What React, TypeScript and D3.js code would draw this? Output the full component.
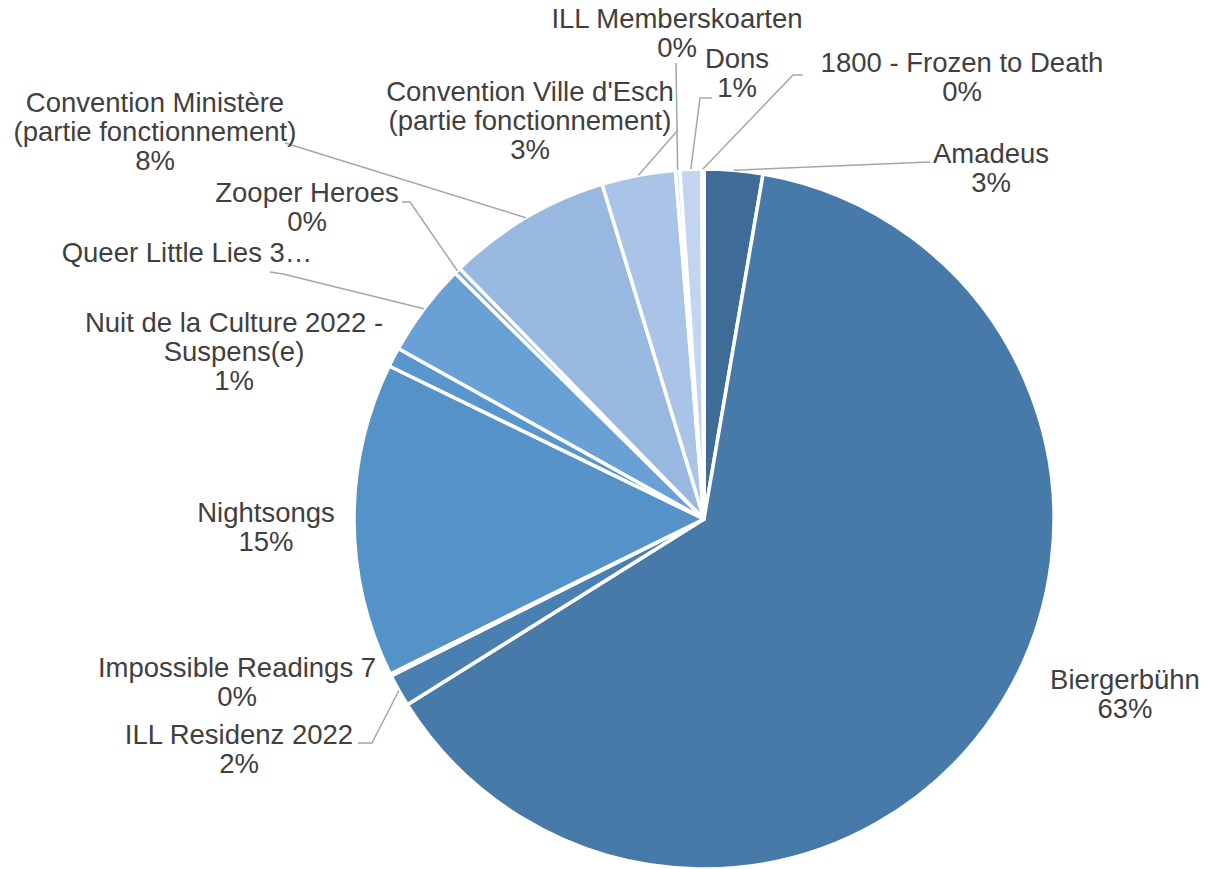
import React from 'react';
import * as d3 from 'd3';

// Categories, clockwise from 12 o'clock
const categories = [
  'Amadeus',
  'Biergerbühn',
  'ILL Residenz 2022',
  'Impossible Readings 7',
  'Nightsongs',
  'Nuit de la Culture 2022 - Suspens(e)',
  'Queer Little Lies 3…',
  'Zooper Heroes',
  'Convention Ministère (partie fonctionnement)',
  "Convention Ville d'Esch (partie fonctionnement)",
  'ILL Memberskoarten',
  'Dons',
  '1800 - Frozen to Death',
];

// share of total, in tenths of a percent
const values = [27, 634, 15, 1, 145, 9, 43, 3, 76, 34, 2, 10, 1];

const colors = [
  '#3f6c96', '#4779a9', '#4a7fb2', '#4f86ba', '#5592c8', '#5996cd', '#69a0d6',
  '#7dabdc', '#98b8e0', '#a9c4e6', '#b8cdea', '#c3d5ee', '#cfddf1',
];

// label layout: text lines (name wrapped), centre x, first baseline, leader line path start
interface LabelLayout {
  lines: string[];
  showPct: boolean;
  x: number;
  y: number;
  leader?: [number, number][];
}

const labelLayout: LabelLayout[] = [
  { lines: ['Amadeus'], showPct: true, x: 991, y: 163, leader: [[930, 162]] },
  { lines: ['Biergerbühn'], showPct: true, x: 1125, y: 689 },
  { lines: ['ILL Residenz 2022'], showPct: true, x: 239, y: 744, leader: [[358, 743], [372, 743]] },
  { lines: ['Impossible Readings 7'], showPct: true, x: 237, y: 677 },
  { lines: ['Nightsongs'], showPct: true, x: 266, y: 522 },
  { lines: ['Nuit de la Culture 2022 -', 'Suspens(e)'], showPct: true, x: 234, y: 332 },
  { lines: ['Queer Little Lies 3…'], showPct: false, x: 187, y: 262, leader: [[270, 272], [283, 274]] },
  { lines: ['Zooper Heroes'], showPct: true, x: 307, y: 202, leader: [[402, 202], [410, 202]] },
  { lines: ['Convention Ministère', '(partie fonctionnement)'], showPct: true, x: 155, y: 112, leader: [[285, 143]] },
  { lines: ["Convention Ville d'Esch", '(partie fonctionnement)'], showPct: true, x: 530, y: 101, leader: [[678, 130]] },
  { lines: ['ILL Memberskoarten'], showPct: true, x: 677, y: 28, leader: [[676, 63]] },
  { lines: ['Dons'], showPct: true, x: 737, y: 68, leader: [[712, 98], [700, 98]] },
  { lines: ['1800 - Frozen to Death'], showPct: true, x: 962, y: 72, leader: [[803, 75], [793, 75]] },
];

const W = 1208;
const H = 869;
const cx = 704;
const cy = 519;
const R = 350;
const lineH = 29;
const font = '"Liberation Sans", Arial, Helvetica, sans-serif';

export default function App() {
  const total = d3.sum(values);
  const pie = d3
    .pie<number>()
    .sort(null)
    .value((d) => d)
    .startAngle(0)
    .endAngle(2 * Math.PI);
  const arcs = pie(values);
  const arc = d3.arc<d3.PieArcDatum<number>>().innerRadius(0).outerRadius(R);

  return (
    <svg
      width={W}
      height={H}
      style={{ position: 'absolute', left: 0, top: 0, background: '#fff' }}
      fontFamily={font}
    >
      <g transform={`translate(${cx},${cy})`}>
        {arcs.map((a, i) => (
          <path key={categories[i]} d={arc(a) || ''} fill={colors[i]} stroke="#fff" strokeWidth={3.5} strokeLinejoin="round" />
        ))}
      </g>
      {arcs.map((a, i) => {
        const lay = labelLayout[i];
        if (!lay.leader) return null;
        const mid = (a.startAngle + a.endAngle) / 2;
        const end: [number, number] = [cx + R * Math.sin(mid), cy - R * Math.cos(mid)];
        const pts = [...lay.leader, end];
        return (
          <path
            key={'l' + i}
            d={d3.line()(pts) || ''}
            fill="none"
            stroke="#a6a6a6"
            strokeWidth={1.5}
          />
        );
      })}
      {arcs.map((a, i) => {
        const lay = labelLayout[i];
        const pct = `${Math.round((values[i] * 100) / total)}%`;
        const lines = lay.showPct ? [...lay.lines, pct] : lay.lines;
        return (
          <text key={'t' + i} x={lay.x} y={lay.y} textAnchor="middle" fontSize={27.5} fill="#404040">
            {lines.map((l, j) => (
              <tspan key={j} x={lay.x} y={lay.y + j * lineH}>
                {l}
              </tspan>
            ))}
          </text>
        );
      })}
    </svg>
  );
}
